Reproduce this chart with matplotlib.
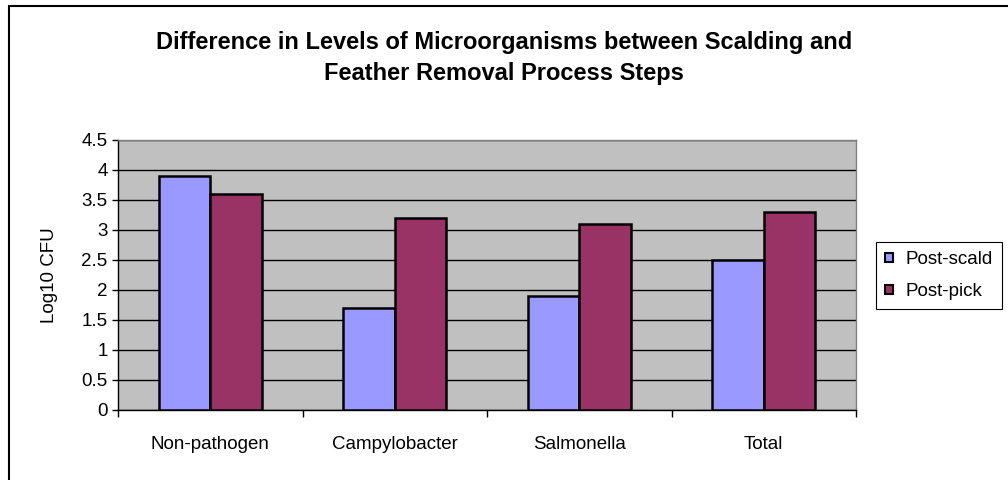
import matplotlib
matplotlib.use("Agg")
import matplotlib.pyplot as plt
import numpy as np
from matplotlib.patches import Rectangle

categories = ["Non-pathogen", "Campylobacter", "Salmonella", "Total"]
post_scald = [3.9, 1.7, 1.9, 2.5]
post_pick = [3.6, 3.2, 3.1, 3.3]
series_names = ["Post-scald", "Post-pick"]
yticks = [0, 0.5, 1, 1.5, 2, 2.5, 3, 3.5, 4, 4.5]

plt.rcParams['font.family'] = ['Liberation Sans', 'DejaVu Sans']

FS = 13.5

fig = plt.figure(figsize=(10.08, 4.8), dpi=100)
ax = fig.add_axes([118/1008, 70/480, 738/1008, 270/480])
ax.set_facecolor("#C0C0C0")

x = np.arange(len(categories))
w = 0.28
ax.bar(x - w/2, post_scald, w, color="#9999FF", edgecolor="black", linewidth=1.8, label=series_names[0], zorder=3)
ax.bar(x + w/2, post_pick, w, color="#993366", edgecolor="black", linewidth=1.8, label=series_names[1], zorder=3)

ax.set_xlim(-0.5, len(categories) - 0.5)
ax.set_ylim(0, 4.5)
ax.set_yticks(yticks)
ax.set_yticklabels([f"{v:g}" for v in yticks], fontsize=FS)
ax.yaxis.grid(True, color="black", linewidth=1.0, zorder=1)
ax.set_axisbelow(True)

ax.set_xticks(x)
ax.set_xticklabels(categories, fontsize=FS)
ax.tick_params(axis="x", length=0, pad=19)
ax.set_xticks(np.arange(-0.5, len(categories) + 0.5, 1), minor=True)
ax.tick_params(axis="x", which="minor", length=5, direction="out", color="black", width=1)
ax.tick_params(axis="y", length=4.5, direction="out", color="black", width=1, pad=3)

for s in ["left", "bottom"]:
    ax.spines[s].set_color("black")
    ax.spines[s].set_linewidth(1.0)
for s in ["top", "right"]:
    ax.spines[s].set_color("#808080")
    ax.spines[s].set_linewidth(1.0)

fig.text(50/1008, 1 - 275/480, "Log10 CFU", rotation=90, ha="center", va="center", fontsize=FS)

fig.text(0.5, 1 - 58/480, "Difference in Levels of Microorganisms between Scalding and\nFeather Removal Process Steps",
         ha="center", va="center", fontsize=17, fontweight="bold", linespacing=1.4)

leg = ax.legend(loc="upper left", bbox_to_anchor=(876/1008, 1 - 242/480), bbox_transform=fig.transFigure,
                fontsize=FS, frameon=True, fancybox=False, edgecolor="black", framealpha=1,
                handlelength=0.4, handleheight=0.4, handletextpad=0.65, borderpad=0.5, labelspacing=0.78,
                borderaxespad=0)
leg.get_frame().set_linewidth(0.8)
for h in leg.legend_handles:
    h.set_linewidth(1.5)

fig.patches.append(Rectangle((9/1008, -0.1), 1.2, 1 - 6/480 + 0.1, transform=fig.transFigure,
                             fill=False, edgecolor="black", linewidth=1.5))

fig.savefig("out.png", dpi=100)
